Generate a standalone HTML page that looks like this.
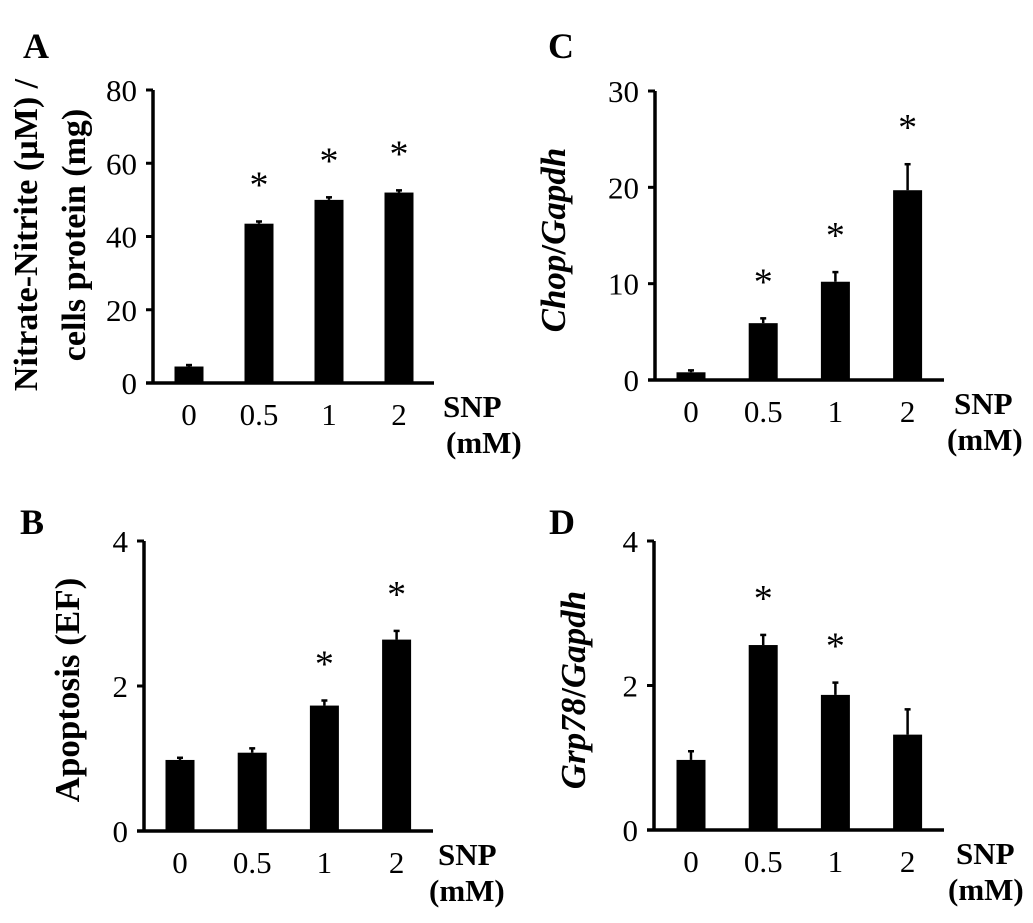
<!DOCTYPE html>
<html><head><meta charset="utf-8"><style>
body{margin:0;background:#fff}
svg{display:block}
text{font-family:"Liberation Serif",serif;fill:#000}
</style></head><body>
<svg id="fig" width="1033" height="923" viewBox="0 0 1033 923" xmlns="http://www.w3.org/2000/svg"></svg>
<script>
const categories = ["0","0.5","1","2"];
const valuesA = [4.5, 43.5, 50, 52];
const errorsA = [0.4, 0.6, 0.7, 0.6];
const sigA = [false, true, true, true];
const ticksA = [0, 20, 40, 60, 80];
const valuesB = [0.98, 1.08, 1.73, 2.64];
const errorsB = [0.03, 0.06, 0.07, 0.12];
const sigB = [false, false, true, true];
const ticksB = [0, 2, 4];
const valuesC = [0.8, 5.9, 10.2, 19.7];
const errorsC = [0.2, 0.5, 1.0, 2.7];
const sigC = [false, true, true, true];
const ticksC = [0, 10, 20, 30];
const valuesD = [0.97, 2.56, 1.87, 1.32];
const errorsD = [0.12, 0.14, 0.17, 0.35];
const sigD = [false, true, true, false];
const ticksD = [0, 2, 4];

const NS = "http://www.w3.org/2000/svg";
const svg = document.getElementById('fig');
function mk(tag, attrs, parent, txt){
  const e = document.createElementNS(NS, tag);
  for (const k in attrs) e.setAttribute(k, attrs[k]);
  if (txt !== undefined) e.textContent = txt;
  (parent || svg).appendChild(e);
  return e;
}
function panel(p){
  const g = mk('g', {});
  
  
  const max = p.ticks[p.ticks.length-1];
  const y = v => p.y0 - (v / max) * (p.y0 - p.yTop);
  const x = i => p.x0 + p.firstC + i * p.step;
  const lbl = mk('text', {x:p.lx, y:p.ly, 'font-size':36, 'font-weight':'bold'}, g, p.id);
  
  
  const ya = mk('line', {x1:p.x0, y1:p.yTop, x2:p.x0, y2:p.y0+1.5, stroke:'#000','stroke-width':3.5}, g);
  
  
  const xa = mk('line', {x1:p.x0-7, y1:p.y0, x2:p.xEnd, y2:p.y0, stroke:'#000','stroke-width':3.5}, g);
  
  
  p.ticks.forEach(t => {
    const tk = mk('line', {x1:p.x0-7, y1:y(t), x2:p.x0, y2:y(t), stroke:'#000','stroke-width':3}, g);
    
    
    const tl = mk('text', {x:p.x0-16, y:y(t)+11, 'font-size':31, 'text-anchor':'end'}, g, String(t));
    
    
  });
  categories.forEach((c, i) => {
    const v = p.values[i], e = p.errors[i], cx = x(i);
    const ln = mk('line', {x1:cx, y1:y(v), x2:cx, y2:y(v+e), stroke:'#000','stroke-width':2.5}, g);
    
    
    const cap = mk('line', {x1:cx-3, y1:y(v+e), x2:cx+3, y2:y(v+e), stroke:'#000','stroke-width':2.5}, g);
    
    
    const r = mk('rect', {x:cx-14.5, y:y(v), width:29, height:p.y0 - y(v), fill:'#000'}, g);
    
    
    const xl = mk('text', {x:cx, y:p.y0+42, 'font-size':31, 'text-anchor':'middle'}, g, c);
    
    
    if (p.sig[i]) {
      const s = mk('text', {x:cx, y:y(v+e)-24, 'font-size':38, 'text-anchor':'middle'}, g, '*');
      
      
    }
  });
  const s1 = mk('text', {x:p.xEnd+p.snpDx, y:p.y0+34, 'font-size':31, 'font-weight':'bold'}, g, 'SNP');
  
  
  const s2 = mk('text', {x:p.xEnd+p.mmDx, y:p.y0+70, 'font-size':31, 'font-weight':'bold'}, g, '(mM)');
  
  
  const tg = mk('text', {transform:`translate(${p.tx},${p.ty}) rotate(-90)`, 'font-size':p.tfs, 'font-weight':'bold', 'text-anchor':'middle'}, g);
  
  
  p.title.forEach((part, k) => {
    const ts = mk('tspan', part.dy !== undefined ? {x:0, dy:part.dy} : {}, tg, part.t);
    if (part.i) ts.setAttribute('font-style', 'italic');
  });
}
panel({id:'A', x0:153, yTop:90, y0:383, xEnd:434, firstC:36, step:70, ticks:ticksA, values:valuesA, errors:errorsA, sig:sigA,
  snpDx:9, mmDx:12,
  lx:23, ly:58, tx:37, ty:235, tfs:34, title:[{t:'Nitrate-Nitrite (µM) /'},{t:'cells protein (mg)', dy:48}]});
panel({id:'B', x0:144, yTop:541, y0:831, xEnd:433, firstC:36, step:72.2, ticks:ticksB, values:valuesB, errors:errorsB, sig:sigB,
  snpDx:5, mmDx:-4,
  lx:20, ly:534, tx:79, ty:690, tfs:35, title:[{t:'Apoptosis (EF)'}]});
panel({id:'C', x0:655, yTop:91, y0:380, xEnd:944, firstC:36, step:72.2, ticks:ticksC, values:valuesC, errors:errorsC, sig:sigC,
  snpDx:10, mmDx:3,
  lx:548, ly:58, tx:565, ty:240, tfs:35, title:[{t:'Chop',i:true},{t:'/'},{t:'Gapdh',i:true}]});
panel({id:'D', x0:654, yTop:541, y0:830, xEnd:944, firstC:37, step:72.2, ticks:ticksD, values:valuesD, errors:errorsD, sig:sigD,
  snpDx:12, mmDx:4,
  lx:549, ly:534, tx:585, ty:690, tfs:35, title:[{t:'Grp',i:true},{t:'78',i:true},{t:'/'},{t:'Gapdh',i:true}]});
</script>
</body></html>
